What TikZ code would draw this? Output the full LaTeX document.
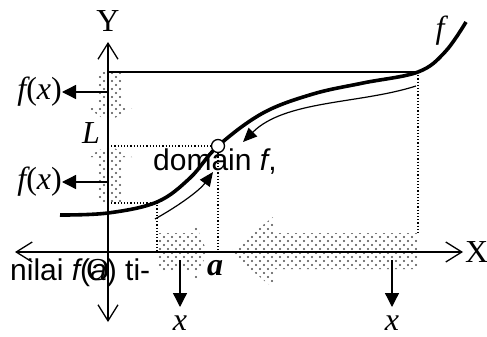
\documentclass[tikz,border=0pt]{standalone}
\usepackage{fontspec}
\setmainfont{Liberation Serif}
\newfontfamily\arialfont{Liberation Sans}
\usetikzlibrary{arrows.meta,patterns.meta}
\begin{document}
\begin{tikzpicture}[x=1pt,y=-1pt,
  axisline/.style={line width=1.3pt,{Straight Barb[length=16pt,width=20pt,line width=1.3pt]}-{Straight Barb[length=16pt,width=20pt,line width=1.3pt]}},
  stippleA/.style={pattern={Dots[distance=8pt,radius=1.05pt]},pattern color=black!70},
  stippleB/.style={pattern={Dots[distance=8pt,radius=1.05pt,xshift=4pt,yshift=4pt]},pattern color=black!70},
  curvef/.style={line width=3.6pt},
  thinarrow/.style={line width=1.2pt,-{Triangle[length=14pt,width=12pt]}},
  outarrow/.style={line width=1.3pt,-{Triangle[length=14pt,width=14pt]}},
  dotline/.style={line width=1.2pt,dotted},
  serif/.style={font=\fontsize{32}{36}\selectfont,inner sep=0pt},
  sans/.style={font=\arialfont\fontsize{30}{34}\selectfont,inner sep=0pt},
]
\useasboundingbox (0,0) rectangle (487,337);

% stippled block arrows
\foreach \s in {stippleA,stippleB}{
\fill[\s] (98,72) -- (122,72) -- (122,108) -- (132,108) -- (108,122) -- (88,108) -- (98,108) -- cycle;
\fill[\s] (98,203) -- (122,203) -- (122,157) -- (132,157) -- (108,145) -- (88,157) -- (98,157) -- cycle;
\fill[\s] (157,233) -- (194,233) -- (194,220) -- (207,252) -- (194,285) -- (194,270) -- (157,270) -- cycle;
\fill[\s] (418,233) -- (273,233) -- (273,217) -- (230,252) -- (273,288) -- (273,269) -- (418,269) -- cycle;
}

% coordinates
\coordinate (yt) at (108,42);
\coordinate (yb) at (108,322);
\coordinate (xl) at (15,252);
\coordinate (xr) at (463,252);
\coordinate (top0) at (108,72);
\coordinate (top1) at (418,72);
\coordinate (rbase) at (418,233);
\coordinate (lL) at (108,146);
\coordinate (a0) at (218,252);
\coordinate (low0) at (108,203);
\coordinate (low1) at (157,203);
\coordinate (low2) at (157,252);
\coordinate (fx1s) at (108,92);
\coordinate (fx2s) at (108,182);
\coordinate (d1s) at (180,260);
\coordinate (d1e) at (180,307);
\coordinate (d2s) at (392,260);
\coordinate (d2e) at (392,307);

% axes
\draw[axisline] (yb) -- (yt);
\draw[axisline] (xl) -- (xr);

% top line
\draw[line width=1.4pt] (top0) -- (top1);

% dotted guide lines
\draw[dotline] (top1) -- (rbase);
\draw[dotline] (low0) -- (low1) -- (low2);

% curve f
\draw[curvef] plot[smooth,tension=0.6] coordinates {(60,215) (108,213) (157,202) (190,178) (218,146) (263,113) (313,94) (363,83) (418,72) (445,52) (466,22)};

% circle
\node[circle,draw,fill=white,line width=1.3pt,minimum size=13pt,inner sep=0pt] (c) at (218,146) {};
\draw[dotline] (lL) -- (c.west);
\draw[dotline] (c.south) -- (a0);

% thin arrows along curve
\coordinate (t1s) at (155,219);
\coordinate (t1e) at (213,172);
\draw[thinarrow] (t1s) .. controls (180,205) and (200,190) .. (t1e);
\coordinate (t2s) at (416,86);
\coordinate (t2e) at (243,142);
\draw[thinarrow] (t2s) .. controls (360,104) and (285,100) .. (t2e);

% labels
\node[serif,anchor=base] (Ylab) at (108,32) {Y};
\node[serif,anchor=base west] (Xlab) at (465,262) {X};
\node[serif,anchor=base] (flab) at (440,38) {\itshape f};
\node[serif,anchor=base east] (Llab) at (100,143) {\itshape L};
\node[serif,anchor=base] (alab) at (215,275) {\bfseries\itshape a};
\node[serif,anchor=base] (Olab) at (98,280) {O};

\node[serif,anchor=east] (fx1) at (62,92) {\itshape f\upshape(\itshape x\upshape)};
\node[serif,anchor=east] (fx2) at (62,182) {\itshape f\upshape(\itshape x\upshape)};
\draw[outarrow] (fx1s) -- (fx1.east);
\draw[outarrow] (fx2s) -- (fx2.east);

\node[serif] (x1) at (180,323) {\itshape x};
\node[serif] (x2) at (392,323) {\itshape x};
\draw[outarrow] (d1s) -- (d1e);
\draw[outarrow] (d2s) -- (d2e);

\node[sans,anchor=base west] (dom) at (153,170) {domain \itshape f\upshape,};
\node[sans,anchor=base west] (nil) at (10,280) {nilai \itshape f\upshape(\itshape a\upshape) ti-};
\end{tikzpicture}
\end{document}
